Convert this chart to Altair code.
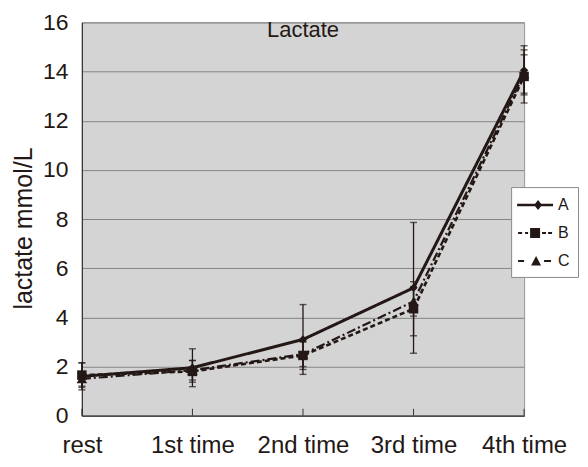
import altair as alt
import pandas as pd

times = ["rest", "1st time", "2nd time", "3rd time", "4th time"]
series_names = ["A", "B", "C"]

a_mean = [1.6, 1.95, 3.1, 5.2, 14.05]
a_sd = [0.55, 0.77, 1.42, 2.66, 1.0]
b_mean = [1.65, 1.8, 2.45, 4.35, 13.8]
b_sd = [0.5, 0.44, 0.57, 1.1, 1.08]
c_mean = [1.5, 1.85, 2.5, 4.65, 13.9]
c_sd = [0.3, 0.4, 0.5, 0.6, 0.78]

rows = []
for s, means, sds in zip(series_names, [a_mean, b_mean, c_mean], [a_sd, b_sd, c_sd]):
    for t, m, sd in zip(times, means, sds):
        rows.append({"time": t, "series": s, "mean": m, "lo": m - sd, "hi": m + sd})
df = pd.DataFrame(rows)
tick_df = pd.DataFrame({"time": times})

INK = "#231815"
FONT = "Liberation Sans"

legend_paths = [
    "M-1.2,-0.13L2.4,-0.13L2.4,0.13L-1.2,0.13Z M0.9,-0.5L1.3,0L0.9,0.5L0.5,0Z",
    "M-1.1,-0.1L-0.7,-0.1L-0.7,0.1L-1.1,0.1Z M-0.4,-0.1L-0.1,-0.1L-0.1,0.1L-0.4,0.1Z "
    "M0.1,-0.5L1.1,-0.5L1.1,0.5L0.1,0.5Z M1.3,-0.1L1.7,-0.1L1.7,0.1L1.3,0.1Z "
    "M1.9,-0.1L2.3,-0.1L2.3,0.1L1.9,0.1Z",
    "M-1.1,-0.1L-0.5,-0.1L-0.5,0.1L-1.1,0.1Z M0.7,-0.5L1.2,0.45L0.2,0.45Z "
    "M1.5,-0.1L2.2,-0.1L2.2,0.1L1.5,0.1Z",
]

x_enc = alt.X(
    "time:N",
    sort=times,
    scale=alt.Scale(type="point", padding=0),
    axis=alt.Axis(
        title=None, labelFont=FONT, labelFontSize=24, labelColor=INK,
        labelPadding=18, labelAngle=0, ticks=False, grid=False,
        domainColor="#333333", domainWidth=1.2,
    ),
)
y_axis = alt.Axis(
    values=list(range(0, 17, 2)), title="lactate mmol/L",
    titleFont=FONT, titleFontSize=25, titleFontWeight="normal", titleColor=INK,
    titleX=-45, titleY=206,
    labelFont=FONT, labelFontSize=23, labelColor=INK, labelPadding=14,
    ticks=False, gridColor="#858585", gridWidth=1,
    domainColor="#333333", domainWidth=1.2,
)
y_scale = alt.Scale(domain=[0, 16])

base = alt.Chart(df)

err = base.mark_rule(color=INK, strokeWidth=1.3).encode(
    x=x_enc, y=alt.Y("lo:Q", scale=y_scale, axis=y_axis), y2="hi:Q"
)
cap_lo = base.mark_tick(color=INK, size=7, thickness=1.4).encode(
    x=x_enc, y=alt.Y("lo:Q", scale=y_scale, axis=y_axis)
)
cap_hi = base.mark_tick(color=INK, size=7, thickness=1.4).encode(
    x=x_enc, y=alt.Y("hi:Q", scale=y_scale, axis=y_axis)
)
inner_ticks = alt.Chart(tick_df).mark_rule(color="#333333", strokeWidth=1).encode(
    x=x_enc, y=alt.datum(0), y2=alt.datum(0.28)
)
lines = base.mark_line(color=INK).encode(
    x=x_enc,
    y=alt.Y("mean:Q", scale=y_scale, axis=y_axis),
    strokeDash=alt.StrokeDash(
        "series:N",
        scale=alt.Scale(domain=series_names, range=[[1, 0], [5, 3], [9, 3, 2, 3]]),
        legend=None,
    ),
    strokeWidth=alt.StrokeWidth(
        "series:N", scale=alt.Scale(domain=series_names, range=[3, 2.2, 2.2]), legend=None
    ),
)
points = base.mark_point(filled=True, color=INK, opacity=1).encode(
    x=x_enc,
    y=alt.Y("mean:Q", scale=y_scale, axis=y_axis),
    shape=alt.Shape(
        "series:N",
        scale=alt.Scale(domain=series_names, range=["diamond", "square", "triangle-up"]),
        legend=None,
    ),
    size=alt.Size(
        "series:N", scale=alt.Scale(domain=series_names, range=[70, 110, 110]), legend=None
    ),
)
legend_layer = base.mark_point(filled=True, color=INK, opacity=0).encode(
    x=x_enc,
    y=alt.Y("mean:Q", scale=y_scale, axis=y_axis),
    shape=alt.Shape(
        "series:N",
        scale=alt.Scale(domain=series_names, range=legend_paths),
        legend=alt.Legend(
            title=None, orient="none", legendX=430, legendY=165,
            padding=8, rowPadding=10, labelOffset=19, symbolSize=400,
            symbolOpacity=1, symbolStrokeWidth=0, symbolFillColor=INK,
            labelFont=FONT, labelFontSize=16, labelColor=INK,
            strokeColor="#8a8a8a", fillColor="white",
        ),
    ),
)

chart = (
    alt.layer(err, cap_lo, cap_hi, inner_ticks, lines, points, legend_layer)
    .resolve_scale(shape="independent")
    .properties(
        width=443, height=394,
        title=alt.Title("Lactate", font=FONT, fontSize=22, fontWeight="normal",
                        color=INK, offset=-31, anchor="middle"),
        autosize=alt.AutoSizeParams(type="none"),
        padding={"left": 74, "top": 14, "right": 56, "bottom": 43},
    )
    .configure_view(fill="#d4d4d4", stroke="#999999", strokeWidth=1)
)

chart.save("out.html", embed_options={"renderer": "svg", "actions": False})
